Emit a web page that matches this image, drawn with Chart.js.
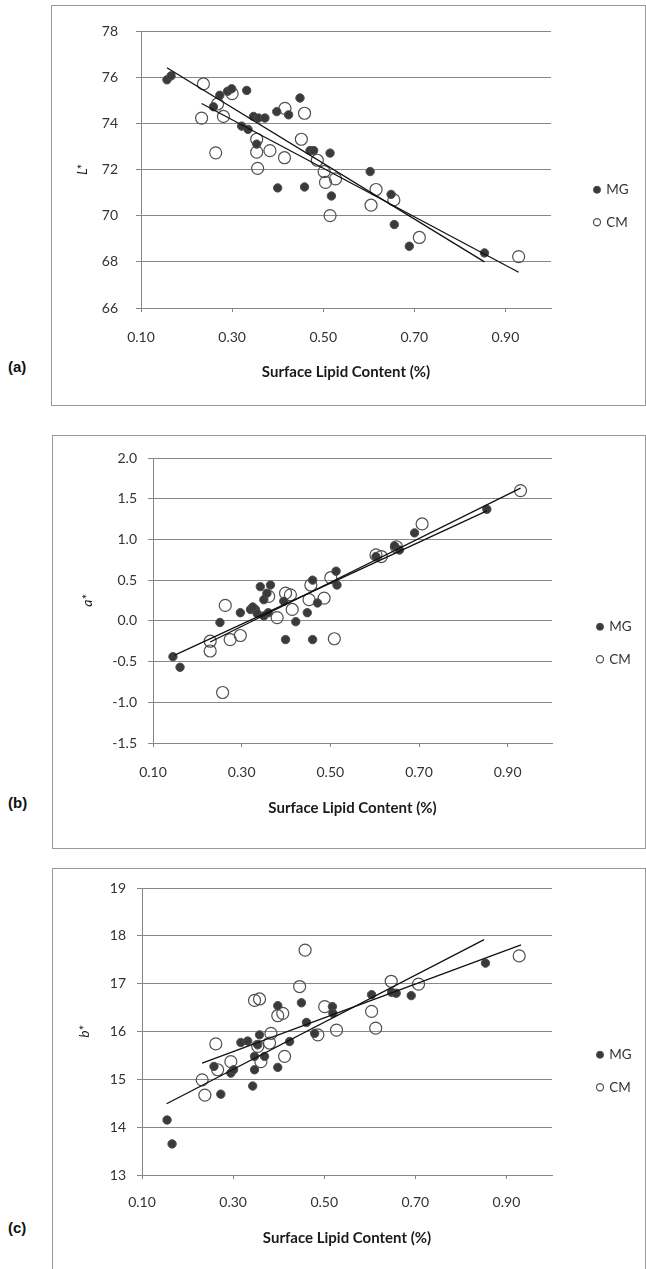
<!DOCTYPE html>
<html><head><meta charset="utf-8">
<script src="https://cdn.jsdelivr.net/npm/chart.js@4.4.1/dist/chart.umd.min.js"></script>
<style>
html,body{margin:0;padding:0;background:#fff;width:646px;height:1269px;overflow:hidden;position:relative;}
.panel{position:absolute;}
.panel canvas{position:absolute;left:0;top:0;}
.frame{position:absolute;border:1px solid #999;box-sizing:border-box;pointer-events:none;}
.plabel{position:absolute;font:bold 15px "Liberation Sans",Arial,sans-serif;color:#111;line-height:18px;}
</style></head><body>
<div class="panel" style="left:51px;top:5px;width:594px;height:400px"><canvas id="ca" width="594" height="400"></canvas></div>
<div class="frame" style="left:51px;top:5px;width:595px;height:401px"></div>
<div class="plabel" style="left:8px;top:358px">(a)</div>

<div class="panel" style="left:52px;top:435px;width:593px;height:413px"><canvas id="cb" width="593" height="413"></canvas></div>
<div class="frame" style="left:52px;top:435px;width:594px;height:414px"></div>
<div class="plabel" style="left:8px;top:794px">(b)</div>

<div class="panel" style="left:52px;top:868px;width:593px;height:416px"><canvas id="cc" width="593" height="416"></canvas></div>
<div class="frame" style="left:52px;top:868px;width:594px;height:417px"></div>
<div class="plabel" style="left:8px;top:1219px">(c)</div>

<script>
// ---------- shared axis data ----------
const xTicks = [0.1, 0.3, 0.5, 0.7, 0.9];
const xTickLabels = ['0.10', '0.30', '0.50', '0.70', '0.90'];
const xTitle = 'Surface Lipid Content (%)';
const seriesNames = ['MG', 'CM'];

// ---------- panel (a): L* ----------
const lYTicks = [66, 68, 70, 72, 74, 76, 78];
const lYTickLabels = ['66', '68', '70', '72', '74', '76', '78'];
const lMG_x = [0.157,0.166,0.259,0.273,0.290,0.299,0.332,0.321,0.335,0.347,0.358,0.372,0.354,0.398,0.424,0.449,0.400,0.459,0.471,0.479,0.515,0.518,0.603,0.649,0.656,0.689,0.854];
const lMG_y = [75.90,76.07,74.73,75.23,75.40,75.51,75.44,73.89,73.75,74.31,74.24,74.24,73.11,74.52,74.38,75.11,71.21,71.25,72.83,72.83,72.72,70.86,71.92,70.93,69.62,68.68,68.39];
const lCM_x = [0.237,0.233,0.264,0.281,0.268,0.300,0.354,0.354,0.356,0.383,0.415,0.416,0.459,0.452,0.487,0.502,0.505,0.527,0.515,0.605,0.616,0.655,0.711,0.929];
const lCM_y = [75.72,74.24,72.73,74.31,74.85,75.30,73.32,72.76,72.06,72.83,72.52,74.66,74.45,73.32,72.41,71.92,71.45,71.60,70.01,70.46,71.14,70.69,69.06,68.23];
const lTrendMG_x = [0.157, 0.854];
const lTrendMG_y = [76.42, 68.00];
const lTrendCM_x = [0.233, 0.929];
const lTrendCM_y = [74.87, 67.55];

// ---------- panel (b): a* ----------
const aYTicks = [-1.5, -1.0, -0.5, 0.0, 0.5, 1.0, 1.5, 2.0];
const aYTickLabels = ['-1.5', '-1.0', '-0.5', '0.0', '0.5', '1.0', '1.5', '2.0'];
const aMG_x = [0.145,0.161,0.251,0.297,0.320,0.331,0.342,0.350,0.357,0.365,0.335,0.350,0.325,0.360,0.395,0.399,0.422,0.448,0.460,0.460,0.471,0.513,0.515,0.603,0.645,0.656,0.690,0.853];
const aMG_y = [-0.44,-0.57,-0.02,0.10,0.14,0.14,0.42,0.26,0.34,0.44,0.09,0.06,0.17,0.10,0.24,-0.23,-0.01,0.10,0.50,-0.23,0.22,0.61,0.44,0.79,0.92,0.87,1.08,1.37];
const aCM_x = [0.263,0.229,0.229,0.274,0.297,0.257,0.361,0.380,0.399,0.410,0.414,0.456,0.452,0.486,0.501,0.509,0.603,0.615,0.649,0.707,0.929];
const aCM_y = [0.19,-0.25,-0.37,-0.23,-0.18,-0.88,0.30,0.04,0.34,0.32,0.14,0.44,0.26,0.28,0.53,-0.22,0.81,0.79,0.91,1.19,1.60];
const aTrendMG_x = [0.149, 0.853];
const aTrendMG_y = [-0.42, 1.35];
const aTrendCM_x = [0.229, 0.929];
const aTrendCM_y = [-0.26, 1.63];

// ---------- panel (c): b* ----------
const bYTicks = [13, 14, 15, 16, 17, 18, 19];
const bYTickLabels = ['13', '14', '15', '16', '17', '18', '19'];
const bMG_x = [0.155,0.166,0.258,0.273,0.295,0.301,0.317,0.332,0.343,0.347,0.347,0.358,0.354,0.369,0.398,0.398,0.424,0.450,0.461,0.479,0.518,0.519,0.604,0.648,0.658,0.691,0.854];
const bMG_y = [14.15,13.65,15.27,14.69,15.13,15.20,15.77,15.80,14.86,15.20,15.48,15.93,15.72,15.48,16.54,15.25,15.79,16.60,16.19,15.96,16.52,16.38,16.77,16.82,16.80,16.75,17.43];
const bCM_x = [0.232,0.238,0.262,0.266,0.295,0.347,0.358,0.354,0.361,0.383,0.380,0.398,0.409,0.413,0.446,0.458,0.486,0.501,0.527,0.604,0.613,0.647,0.707,0.928];
const bCM_y = [14.99,14.67,15.74,15.20,15.37,16.65,16.68,15.69,15.37,15.96,15.76,16.33,16.38,15.48,16.94,17.70,15.93,16.52,16.03,16.42,16.07,17.05,16.99,17.58];
const bTrendMG_x = [0.154, 0.851];
const bTrendMG_y = [14.49, 17.92];
const bTrendCM_x = [0.232, 0.932];
const bTrendCM_y = [15.34, 17.81];

// ---------- rendering ----------
Chart.defaults.font.family = 'Lato, "Open Sans", sans-serif';
Chart.defaults.color = '#333';

const pts = (xs, ys) => xs.map((x, i) => ({x: x, y: ys[i]}));

const legendPlace = {
  id: 'legendPlace',
  afterLayout(chart, args, opts) {
    const lg = chart.legend;
    if (!lg) return;
    const w = lg.width, h = lg.height;
    lg.left = opts.x; lg.right = opts.x + w;
    lg.top = opts.y; lg.bottom = opts.y + h;
  }
};

function makeChart(id, p) {
  const gridCol = '#878787';
  return new Chart(document.getElementById(id), {
    type: 'scatter',
    data: {
      datasets: [
        {label: seriesNames[0], data: pts(p.mgX, p.mgY), pointRadius: 4.2, pointHoverRadius: 4.2,
         backgroundColor: '#3a3a3a', borderColor: '#4d4d4d', borderWidth: 1, order: 1},
        {label: seriesNames[1], data: pts(p.cmX, p.cmY), pointRadius: 6, pointHoverRadius: 6,
         backgroundColor: 'rgba(255,255,255,0)', borderColor: '#505050', borderWidth: 1.2, order: 2},
        {label: 'trend ' + seriesNames[0], data: pts(p.tMgX, p.tMgY), showLine: true, pointRadius: 0,
         borderColor: '#111', borderWidth: 1.3, fill: false, order: 0},
        {label: 'trend ' + seriesNames[1], data: pts(p.tCmX, p.tCmY), showLine: true, pointRadius: 0,
         borderColor: '#111', borderWidth: 1.3, fill: false, order: 0}
      ]
    },
    options: {
      responsive: false, animation: false, events: [],
      layout: {padding: {left: 0, top: p.T, right: p.W - p.R, bottom: 0}},
      plugins: {
        tooltip: {enabled: false},
        legend: {
          position: 'chartArea', align: 'start',
          labels: {
            filter: it => seriesNames.includes(it.text),
            usePointStyle: true, pointStyle: 'circle', boxWidth: 5, boxHeight: 5,
            padding: 19, font: {size: 13.5}, color: '#333'
          }
        },
        legendPlace: {x: p.lgX, y: p.lgY}
      },
      scales: {
        x: {
          type: 'linear', position: 'bottom', min: 0.1, max: 1.0,
          afterBuildTicks: s => { s.ticks = xTicks.map(v => ({value: v})); },
          afterFit: s => { s.height = p.H - p.B; },
          grid: {drawOnChartArea: false, drawTicks: true, tickLength: 4, color: gridCol, lineWidth: 1},
          border: {display: true, color: gridCol, width: 1},
          ticks: {autoSkip: false, maxRotation: 0, padding: p.xTickPad, color: '#333', font: {size: 14},
                  callback: (v, i) => xTickLabels[i]},
          title: {display: true, text: xTitle, color: '#1a1a1a', font: {size: 15, weight: 'bold'},
                  padding: {top: 0, bottom: p.xTitlePad}}
        },
        y: {
          type: 'linear', position: 'left', min: p.yTicks[0], max: p.yTicks[p.yTicks.length - 1],
          afterBuildTicks: s => { s.ticks = p.yTicks.map(v => ({value: v})); },
          afterFit: s => { s.width = p.L; },
          grid: {color: gridCol, lineWidth: 1, drawTicks: true, tickLength: 5},
          border: {display: true, color: gridCol, width: 1},
          ticks: {padding: p.yTickPad, color: '#333', font: {size: 14},
                  callback: (v, i) => p.yLabels[i]},
          title: {display: true, text: p.yTitle, color: '#1a1a1a', font: {size: 14, style: 'italic'},
                  padding: {top: p.yTitlePad, bottom: 0}}
        }
      }
    },
    plugins: [legendPlace]
  });
}

makeChart('ca', {
  mgX: lMG_x, mgY: lMG_y, cmX: lCM_x, cmY: lCM_y,
  tMgX: lTrendMG_x, tMgY: lTrendMG_y, tCmX: lTrendCM_x, tCmY: lTrendCM_y,
  yTicks: lYTicks, yLabels: lYTickLabels, yTitle: 'L*',
  W: 594, H: 400, L: 90, R: 500, T: 19, B: 303,
  xTickPad: 17.5, xTitlePad: 24, yTickPad: 18, yTitlePad: 23.5, lgX: 524.5, lgY: 159
});
makeChart('cb', {
  mgX: aMG_x, mgY: aMG_y, cmX: aCM_x, cmY: aCM_y,
  tMgX: aTrendMG_x, tMgY: aTrendMG_y, tCmX: aTrendCM_x, tCmY: aTrendCM_y,
  yTicks: aYTicks, yLabels: aYTickLabels, yTitle: 'a*',
  W: 593, H: 413, L: 101, R: 500, T: 23, B: 308,
  xTickPad: 17.5, xTitlePad: 31, yTickPad: 11, yTitlePad: 27, lgX: 526.5, lgY: 166
});
makeChart('cc', {
  mgX: bMG_x, mgY: bMG_y, cmX: bCM_x, cmY: bCM_y,
  tMgX: bTrendMG_x, tMgY: bTrendMG_y, tCmX: bTrendCM_x, tCmY: bTrendCM_y,
  yTicks: bYTicks, yLabels: bYTickLabels, yTitle: 'b*',
  W: 593, H: 416, L: 90, R: 500, T: 20, B: 307,
  xTickPad: 15.5, xTitlePad: 37, yTickPad: 11, yTitlePad: 24.5, lgX: 526.5, lgY: 161
});
</script>
</body></html>
